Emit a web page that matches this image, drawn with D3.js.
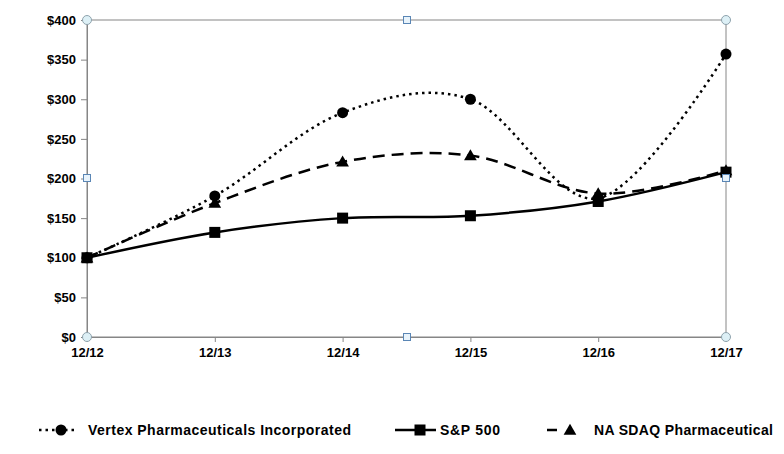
<!DOCTYPE html>
<html><head><meta charset="utf-8">
<script src="https://cdn.jsdelivr.net/npm/d3@7"></script>
<style>body{margin:0;background:#fff}svg{display:block}text{font-family:"Liberation Sans",Arial,sans-serif;font-weight:bold;fill:#000}</style>
</head><body><svg id="c" width="784" height="454"></svg>
<script>
const categories = ["12/12","12/13","12/14","12/15","12/16","12/17"];
const vertex = [100, 178, 283, 300, 175, 357];
const sp500 = [100, 132, 150, 153, 171, 208];
const nasdaqPharma = [100, 169, 221, 229, 181, 210];
const yTicks = [0,50,100,150,200,250,300,350,400];
const seriesNames = ["Vertex Pharmaceuticals Incorporated","S&P 500","NA SDAQ Pharmaceutical"];

const svg = d3.select("#c");
const x = d3.scalePoint().domain(categories).range([87, 726]);
const y = d3.scaleLinear().domain([0, 400]).range([337, 20]);
const gray = "#868686";

// frame
svg.append("rect").attr("x", 87).attr("y", 20).attr("width", 726-87).attr("height", 317)
  .attr("fill","none").attr("stroke", gray).attr("stroke-width", 1);

// y axis
const ya = svg.append("g").attr("transform","translate(87,0)")
  .call(d3.axisLeft(y).tickValues(yTicks).tickSize(6).tickPadding(5).tickFormat(d => "$" + d));
ya.select(".domain").attr("stroke", gray);
ya.selectAll(".tick line").attr("stroke", gray);
ya.selectAll("text").attr("font-family", null).attr("font-size", null).style("font-size","13px");

// x axis
const xa = svg.append("g").attr("transform","translate(0,337)")
  .call(d3.axisBottom(x).tickSize(5).tickPadding(6));
xa.select(".domain").attr("stroke", gray);
xa.selectAll(".tick line").attr("stroke", gray);
xa.selectAll("text").attr("font-family", null).attr("font-size", null).style("font-size","13px");

const curve = d3.curveCatmullRom.alpha(0);
const line = d3.line().x((d,i) => x(categories[i])).y(d => y(d)).curve(curve);

const styles = [
  {data: vertex, dash: "2.5,4", marker: "circle"},
  {data: sp500, dash: null, marker: "square"},
  {data: nasdaqPharma, dash: "12,7", marker: "triangle"}
];

function drawMarker(g, type, cx, cy) {
  if (type === "circle") g.append("circle").attr("cx", cx).attr("cy", cy).attr("r", 5.5).attr("fill","#000");
  else if (type === "square") g.append("rect").attr("x", cx-5.5).attr("y", cy-5.5).attr("width", 11).attr("height", 11).attr("fill","#000");
  else g.append("path").attr("d", d3.symbol(d3.symbolTriangle, 70)()).attr("transform", `translate(${cx},${cy+1})`).attr("fill","#000");
}

styles.forEach(s => {
  svg.append("path").attr("d", line(s.data)).attr("fill","none").attr("stroke","#000")
    .attr("stroke-width", 2.5).attr("stroke-dasharray", s.dash);
});
const mg = svg.append("g");
[1,2,0].forEach(k => {
  const s = styles[k];
  s.data.forEach((v,i) => drawMarker(mg, s.marker, x(categories[i]), y(v)));
});

// selection handles
const hg = svg.append("g");
[[87,20],[726,20],[87,337],[726,337]].forEach(p => {
  hg.append("circle").attr("cx", p[0]).attr("cy", p[1]).attr("r", 4.5).attr("fill","#ddf0f6").attr("stroke","#8fa3ad").attr("stroke-width",1);
});
[[407,20],[407,337],[87,178],[726,178]].forEach(p => {
  hg.append("rect").attr("x", p[0]-3.5).attr("y", p[1]-3.5).attr("width", 7).attr("height", 7).attr("fill","#e8f3fb").attr("stroke","#5a86b5").attr("stroke-width",1);
});

// legend
const ly = 430;
const lg = svg.append("g");
function legendText(xp, txt, w) {
  lg.append("text").attr("x", xp).attr("y", ly).attr("dy","0.36em").style("font-size","14px")
    .attr("textLength", w).attr("lengthAdjust","spacing").text(txt);
}
// Vertex
lg.append("line").attr("x1", 39).attr("x2", 77).attr("y1", ly).attr("y2", ly).attr("stroke","#000").attr("stroke-width",2.5).attr("stroke-dasharray","2.5,4");
drawMarker(lg, "circle", 61, ly);
legendText(88, seriesNames[0], 263);
// S&P
lg.append("line").attr("x1", 395).attr("x2", 436).attr("y1", ly).attr("y2", ly).attr("stroke","#000").attr("stroke-width",2.5);
drawMarker(lg, "square", 420, ly);
legendText(440, seriesNames[1], 60);
// NASDAQ
lg.append("line").attr("x1", 547).attr("x2", 557).attr("y1", ly).attr("y2", ly).attr("stroke","#000").attr("stroke-width",2.5);
drawMarker(lg, "triangle", 570, ly);
legendText(594, seriesNames[2], 179);
</script></body></html>
